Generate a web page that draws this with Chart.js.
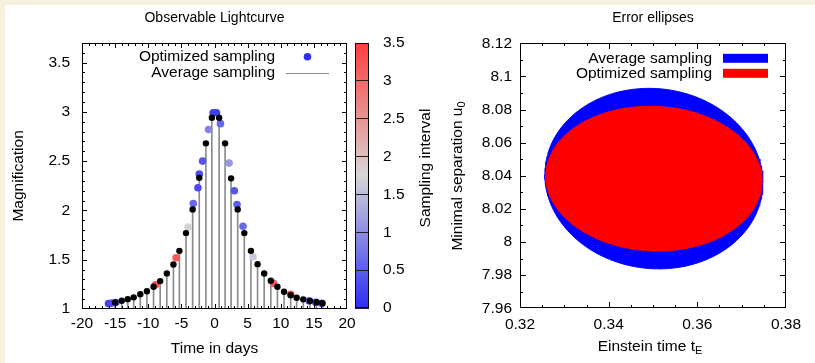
<!DOCTYPE html>
<html><head><meta charset="utf-8">
<script src="https://cdn.jsdelivr.net/npm/chart.js@4.4.1/dist/chart.umd.min.js"></script>
<style>
html,body{margin:0;padding:0;}
body{width:815px;height:363px;background:#f6f1df;position:relative;overflow:hidden;font-family:"Liberation Sans",Arial,sans-serif;}
#panel{position:absolute;left:5px;top:5px;width:810px;height:358px;background:#fff;}
canvas{position:absolute;top:0;}
.ttl{position:absolute;font-size:15.5px;color:#000;white-space:nowrap;line-height:1;transform:translate(-50%,-50%);}
.rot{transform:translate(-50%,-50%) rotate(-90deg);}
.ttl sub{font-size:11px;vertical-align:-3px;line-height:0;}
</style></head>
<body>
<div id="panel"></div>
<canvas id="cLeft" width="355" height="363" style="left:0"></canvas>
<canvas id="cBar" width="90" height="363" style="left:350px"></canvas>
<canvas id="cRight" width="375" height="363" style="left:440px"></canvas>
<div class="ttl rot" style="left:425px;top:168px">Sampling interval</div>
<div class="ttl rot" style="left:456.5px;top:176px">Minimal separation u<sub>0</sub></div>
<div class="ttl" style="left:650px;top:346px">Einstein time t<sub>E</sub></div>
<script>
// ---------- data: left panel (light curve) ----------
const avgT = [-15.0,-14.0,-13.1,-12.2,-11.2,-10.2,-9.2,-8.2,-7.2,-6.2,-5.3,-4.3,-3.3,-2.3,-1.3,-0.4,0.7,1.6,2.5,3.5,4.5,5.5,6.5,7.5,8.5,9.5,10.5,11.5,12.4,13.4,14.4,15.4,16.3];
const avgA = [1.066,1.083,1.100,1.118,1.149,1.180,1.225,1.283,1.361,1.452,1.590,1.770,2.010,2.330,2.680,2.940,2.940,2.680,2.325,2.010,1.770,1.590,1.455,1.360,1.286,1.225,1.175,1.140,1.114,1.098,1.081,1.068,1.058];
const optT = [-16.0,-15.5,-14.9,-8.9,-5.8,-4.0,-3.2,-2.5,-2.3,-1.8,-0.9,-0.2,0.3,0.9,2.2,3.0,3.4,4.3,5.8,8.9,11.5,14.3,15.3,16.2];
const optA = [1.055,1.060,1.066,1.245,1.520,1.830,2.070,2.230,2.370,2.500,2.820,2.990,2.990,2.880,2.480,2.200,2.060,1.840,1.530,1.260,1.150,1.082,1.067,1.057];
const optInterval = [0.2,0.3,0.4,3.3,3.2,1.8,0.6,0.3,0.3,0.4,0.9,0.2,0.2,0.6,1.1,0.4,0.5,0.6,1.6,3.2,3.3,0.5,0.4,0.3];
const xTicksLeft = [-20,-15,-10,-5,0,5,10,15,20];
const yTicksLeft = [1,1.5,2,2.5,3,3.5];
const cbTicks = [0,0.5,1,1.5,2,2.5,3,3.5];
const cbRange = [0,3.5];
// ---------- data: right panel (error ellipses) ----------
const ellNames = ['Average sampling','Optimized sampling'];
const ellCenterTE = [0.3502,0.3502];
const ellCenterU0 = [8.0383,8.0383];
const ellSigmaTE = [0.0246,0.0244];
const ellSigmaU0 = [0.0545,0.0437];
const ellCorr = [-0.045,-0.035];
const xTicksRight = [0.32,0.34,0.36,0.38];
const yTicksRight = [7.96,7.98,8.00,8.02,8.04,8.06,8.08,8.10,8.12];

Chart.defaults.font.family = '"Liberation Sans", Arial, sans-serif';
Chart.defaults.color = '#000';
Chart.defaults.animation = false;

const BLUE=[45,45,245], GREY=[214,214,214], RED=[255,62,62];
function mix(a,b,t){return 'rgb('+a.map((v,i)=>Math.round(v+(b[i]-v)*t)).join(',')+')';}
function paletteColor(v){
  const f=Math.max(0,Math.min(1,(v-cbRange[0])/(cbRange[1]-cbRange[0])));
  return f<0.5?mix(BLUE,GREY,f/0.5):mix(GREY,RED,(f-0.5)/0.5);
}
function rangeStep(a,b,s){const r=[];for(let v=a;v<=b+1e-9;v+=s)r.push(+v.toFixed(6));return r;}

// tick layout per canvas
const TICKS = {
  cLeft:{x:[[rangeStep(-20,20,1),3],[xTicksLeft,5]],y:[[rangeStep(1,3.7,0.1),3],[yTicksLeft,5]]},
  cBar:{x:[],y:[]},
  cRight:{x:[[rangeStep(0.32,0.38,0.005),3],[xTicksRight,6]],y:[[rangeStep(7.96,8.12,0.01),3],[yTicksRight,6]]}
};
// inward ticks + frame, positioned through the chart scales
const frameTicks = {
  id:'frameTicks',
  afterDraw(chart){
    const o=TICKS[chart.canvas.id]; if(!o) return;
    const {ctx,chartArea:a,scales}=chart;
    ctx.save();ctx.globalAlpha=1;ctx.globalCompositeOperation='source-over';ctx.fillStyle='#000';
    const L=Math.round(a.left),R=Math.round(a.right)-1,T=Math.round(a.top),B=Math.round(a.bottom)-1;
    o.x.forEach(([vals,len])=>vals.forEach(v=>{const p=Math.round(scales.x.getPixelForValue(v));if(p<L-1||p>R+1)return;
      ctx.fillRect(Math.min(p,R),B-len+1,1,len);ctx.fillRect(Math.min(p,R),T,1,len);}));
    o.y.forEach(([vals,len])=>vals.forEach(v=>{const p=Math.round(scales.y.getPixelForValue(v));if(p<T-1||p>B+1)return;
      const q=Math.min(Math.max(p,T),B);
      ctx.fillRect(L,q,len,1);ctx.fillRect(R-len+1,q,len,1);}));
    ctx.fillRect(L,T,R-L+1,1);ctx.fillRect(L,B,R-L+1,1);ctx.fillRect(L,T,1,B-T+1);ctx.fillRect(R,T,1,B-T+1);
    ctx.restore();
  }
};
// gnuplot-like key: text right-aligned, sample on its right
const keyPlugin = {
  id:'gkey',
  afterDatasetsDraw(chart,args,o){
    if(!o || !o.items) return;
    const {ctx,chartArea:a}=chart;
    ctx.save();
    ctx.font='15.5px "Liberation Sans", Arial, sans-serif';
    ctx.textAlign='right';ctx.textBaseline='middle';
    o.items.forEach((it,i)=>{
      const y=a.top+o.top+i*o.gap;
      ctx.fillStyle='#000';
      ctx.fillText(chart.data.datasets[it.ds].label,a.right-o.textEnd,y);
      const x0=a.right-o.s0,x1=a.right-o.s1;
      if(it.kind==='point'){ctx.fillStyle=it.color;ctx.beginPath();ctx.arc((x0+x1)/2,y,3.8,0,Math.PI*2);ctx.fill();}
      else if(it.kind==='line'){ctx.fillStyle=it.color;ctx.fillRect(Math.round(x0),Math.round(y),Math.round(x1-x0),1);}
      else {ctx.fillStyle=it.color;ctx.fillRect(x0,y-4.5,x1-x0,9);}
    });
    ctx.restore();
  }
};
Chart.register(frameTicks,keyPlugin);

const tickFont={size:15.5};
const fmt=v=>String(+(+v).toFixed(4));
const noGrid={display:false,drawTicks:false};

// ---------- left chart ----------
new Chart(document.getElementById('cLeft'),{
  type:'scatter',
  data:{datasets:[
    {type:'bar',label:'Average sampling',data:avgT.map((t,i)=>({x:t,y:avgA[i]})),backgroundColor:'#8c8c8c',barThickness:1,base:1,grouped:false,borderWidth:0,order:3},
    {label:'Optimized sampling',data:optT.map((t,i)=>({x:t,y:optA[i]})),pointRadius:3.8,borderWidth:0,
      backgroundColor:c=>paletteColor(optInterval[c.dataIndex]),order:2},
    {label:'Average sampling (points)',data:avgT.map((t,i)=>({x:t,y:avgA[i]})),pointRadius:3.2,borderWidth:0,backgroundColor:'#000',order:1}
  ]},
  options:{
    responsive:false,
    layout:{padding:{left:0,right:8,top:0,bottom:0}},
    plugins:{
      legend:{display:false},tooltip:{enabled:false},
      title:{display:true,text:'Observable Lightcurve',fullSize:false,font:{size:14,weight:'normal'},padding:{top:10,bottom:16}},
      gkey:{items:[{ds:1,kind:'point',color:paletteColor(0)},{ds:0,kind:'line',color:'#8c8c8c'}],top:14,gap:16,textEnd:72,s0:61,s1:18}
    },
    scales:{
      x:{type:'linear',offset:false,min:-20,max:20,grid:noGrid,border:{display:false},
        afterBuildTicks:s=>{s.ticks=xTicksLeft.map(v=>({value:v}));},
        ticks:{font:tickFont,padding:5,maxRotation:0,autoSkip:false,callback:fmt},
        title:{display:true,text:'Time in days',font:{size:15.5},padding:{top:0,bottom:5}},
        afterFit:s=>{s.height=54;s.paddingLeft=0;s.paddingRight=0;}},
      y:{type:'linear',min:1,max:3.7,grid:noGrid,border:{display:false},
        afterBuildTicks:s=>{s.ticks=yTicksLeft.map(v=>({value:v}));},
        ticks:{font:tickFont,padding:12,callback:fmt},
        title:{display:true,text:'Magnification',font:{size:15.5},padding:{top:9,bottom:0}},
        afterFit:s=>{s.width=82;s.paddingTop=0;s.paddingBottom=0;}}
    }
  }
});

// ---------- colour bar ----------
new Chart(document.getElementById('cBar'),{
  type:'bar',
  data:{labels:['Sampling interval'],datasets:[{label:'Sampling interval',data:[[cbRange[0],cbRange[1]]],
    barPercentage:1,categoryPercentage:1,borderWidth:0,
    backgroundColor:c=>{const ch=c.chart,a=ch.chartArea;if(!a)return '#ccc';
      const g=ch.ctx.createLinearGradient(0,a.bottom,0,a.top);
      g.addColorStop(0,paletteColor(0));g.addColorStop(0.5,paletteColor(1.75));g.addColorStop(1,paletteColor(3.5));return g;}}]},
  options:{
    responsive:false,
    layout:{padding:{left:5,right:0,top:43,bottom:55}},
    plugins:{legend:{display:false},tooltip:{enabled:false}},
    scales:{
      x:{display:false},
      y:{position:'right',min:cbRange[0],max:cbRange[1],
        grid:{display:true,drawTicks:false,drawOnChartArea:true,color:'#222',lineWidth:1,z:1},border:{display:false},
        afterBuildTicks:s=>{s.ticks=cbTicks.map(v=>({value:v}));},
        ticks:{font:tickFont,padding:14,callback:fmt},
        afterFit:s=>{s.width=71;s.paddingTop=0;s.paddingBottom=0;}}
    }
  }
});

// ---------- right chart ----------
function ellipseHalf(i,upper){
  const pts=[],N=120,s=Math.sqrt(1-ellCorr[i]*ellCorr[i]);
  for(let k=0;k<=N;k++){
    const th=upper?Math.PI-Math.PI*k/N:Math.PI+Math.PI*k/N;
    pts.push({x:ellCenterTE[i]+ellSigmaTE[i]*Math.cos(th),
              y:ellCenterU0[i]+ellSigmaU0[i]*(ellCorr[i]*Math.cos(th)+s*Math.sin(th))});
  }
  return pts;
}
const ellColors=['#0000ff','#ff0000'];
const ellDatasets=[];
ellNames.forEach((n,i)=>{
  ellDatasets.push({label:n,data:ellipseHalf(i,true),showLine:true,fill:'+1',backgroundColor:ellColors[i],borderColor:ellColors[i],borderWidth:1,pointRadius:0,order:10-2*i});
  ellDatasets.push({label:n+' (lower edge)',data:ellipseHalf(i,false),showLine:true,fill:false,backgroundColor:ellColors[i],borderColor:ellColors[i],borderWidth:1,pointRadius:0,order:9-2*i});
});
new Chart(document.getElementById('cRight'),{
  type:'scatter',
  data:{datasets:ellDatasets},
  options:{
    responsive:false,
    layout:{padding:{left:0,right:29,top:0,bottom:0}},
    plugins:{
      legend:{display:false},tooltip:{enabled:false},
      title:{display:true,text:'Error ellipses',fullSize:false,font:{size:14,weight:'normal'},padding:{top:10,bottom:16.5}},
      gkey:{items:[{ds:0,kind:'rect',color:ellColors[0]},{ds:2,kind:'rect',color:ellColors[1]}],top:15,gap:15,textEnd:74,s0:63,s1:18}
    },
    scales:{
      x:{type:'linear',offset:false,min:0.32,max:0.38,grid:noGrid,border:{display:false},
        afterBuildTicks:s=>{s.ticks=xTicksRight.map(v=>({value:v}));},
        ticks:{font:tickFont,padding:7,maxRotation:0,autoSkip:false,callback:fmt},
        afterFit:s=>{s.height=54.7;s.paddingLeft=0;s.paddingRight=0;}},
      y:{type:'linear',min:7.96,max:8.12,grid:noGrid,border:{display:false},
        afterBuildTicks:s=>{s.ticks=yTicksRight.map(v=>({value:v}));},
        ticks:{font:tickFont,padding:8,callback:fmt},
        afterFit:s=>{s.width=80;s.paddingTop=0;s.paddingBottom=0;}}
    }
  }
});
</script>
</body></html>
